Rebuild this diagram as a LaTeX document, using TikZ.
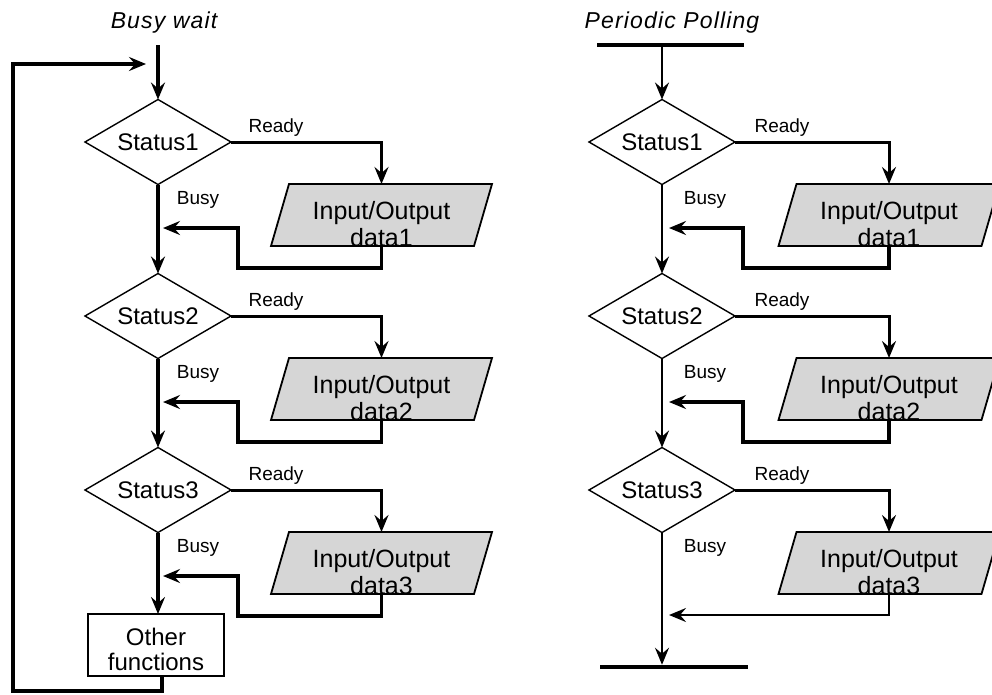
\documentclass[tikz,border=0pt]{standalone}
\usepackage{fontspec}
\setmainfont{Liberation Sans}
\newfontfamily\titlefont[LetterSpace=5]{Liberation Sans}
\usetikzlibrary{shapes.geometric,arrows.meta,calc}
\definecolor{iogray}{RGB}{214,214,214}

\begin{document}
\begin{tikzpicture}[x=1pt,y=-1pt,
  every node/.style={inner sep=0pt,outer sep=0pt},
  tip/.tip={Stealth[length=17pt,width=14pt,inset=6pt]},
  decision/.style={diamond,draw,line width=1.4pt,aspect=1.7,
    minimum width=146pt,minimum height=85pt,
    font=\fontsize{24}{27}\selectfont},
  % frame of an input/output box; the slanted outline is drawn around it
  iobox/.style={rectangle,minimum width=203pt,minimum height=62pt},
  ioshape/.style={draw,line width=1.8pt,fill=iogray,line join=miter},
  iotext/.style={align=center,font=\fontsize{25}{27}\selectfont},
  procbox/.style={rectangle,draw,line width=1.8pt,minimum width=136pt,
    minimum height=62pt},
  proctext/.style={align=center,font=\fontsize{24}{25}\selectfont},
  tag/.style={font=\fontsize{19}{21}\selectfont},
  heading/.style={font=\titlefont\itshape\fontsize{23}{25}\selectfont},
  bar/.style={rectangle,fill=black,minimum width=147pt},
  mainflow/.style={line width=3.5pt,-tip},
  mainthin/.style={line width=2.5pt,-tip},
  ready/.style={line width=3pt,-tip},
  back/.style={line width=3.5pt,-tip},
  backthin/.style={line width=2.2pt,-tip},
  loopline/.style={line width=4pt,-tip}
]
\useasboundingbox (0,0) rectangle (992,694);

% slanted input/output box around node #1
\newcommand\ioslant[1]{%
  \path[ioshape] ([xshift=9pt]#1.north west) -- ([xshift=9pt]#1.north east)
    -- ([xshift=-9pt]#1.south east) -- ([xshift=-9pt]#1.south west) -- cycle;}

% ---------------- Busy wait ----------------
\node[heading] (bwtitle) at (164,23) {Busy wait};
\coordinate (bwstart) at (158,45);
\coordinate (loopin) at (146,64);

\foreach \i/\dy in {1/0,2/174,3/348}{
  \node[decision] (ds\i) at (158,142+\dy) {Status\i};
  \node[iobox] (io\i) at (381.5,215+\dy) {};
  \ioslant{io\i}
  \node[iotext] (iot\i) at ([yshift=-9pt]io\i.center) {Input/Output\\data\i};
  \node[tag] (rdy\i) at (276,128+\dy) {Ready};
  \node[tag] (bsy\i) at (198,200+\dy) {Busy};
  \coordinate (ret\i) at (163,228+\dy);
  \draw[ready] (ds\i.east) -| (io\i.north);
  \draw[back] (io\i.south) -- ++(0,22) -| ([xshift=75pt]ret\i.center) -- (ret\i);
}
\node[procbox] (other) at (156,645) {};
\node[proctext] (othertext) at ([yshift=-4pt]other.center) {Other\\functions};

\draw[mainflow] (bwstart) -- (ds1.north);
\draw[mainflow] (ds1.south) -- (ds2.north);
\draw[mainflow] (ds2.south) -- (ds3.north);
\draw[mainflow] (ds3.south) -- (other.north -| ds3.south);
\draw[loopline] ([xshift=6pt]other.south) -- ++(0,15) -| ([xshift=-133pt]loopin.center) -- (loopin);

% ---------------- Periodic Polling ----------------
\node[heading] (pptitle) at (672,23) {Periodic Polling};
\node[bar,minimum height=3.5pt] (topbar) at (670,45) {};
\node[bar,minimum height=4.5pt,minimum width=148pt] (endbar) at (674,667) {};

\foreach \i/\dy in {1/0,2/174,3/348}{
  \node[decision] (pd\i) at (662,142+\dy) {Status\i};
  \node[iobox] (pio\i) at (889,215+\dy) {};
  \ioslant{pio\i}
  \node[iotext] (piot\i) at ([yshift=-9pt]pio\i.center) {Input/Output\\data\i};
  \node[tag] (prdy\i) at (782,128+\dy) {Ready};
  \node[tag] (pbsy\i) at (705,200+\dy) {Busy};
  \coordinate (pret\i) at (669,228+\dy);
  \draw[ready] (pd\i.east) -| (pio\i.north);
}
\draw[back] (pio1.south) -- ++(0,22) -| ([xshift=74pt]pret1.center) -- (pret1);
\draw[back] (pio2.south) -- ++(0,22) -| ([xshift=74pt]pret2.center) -- (pret2);
\coordinate (pret3b) at (669,615);
\draw[backthin] (pio3.south) |- (pret3b);

\draw[mainthin] (topbar.center -| pd1.north) -- (pd1.north);
\draw[mainthin] (pd1.south) -- (pd2.north);
\draw[mainthin] (pd2.south) -- (pd3.north);
\draw[mainthin] (pd3.south) -- (endbar.north -| pd3.south);
\end{tikzpicture}
\end{document}
